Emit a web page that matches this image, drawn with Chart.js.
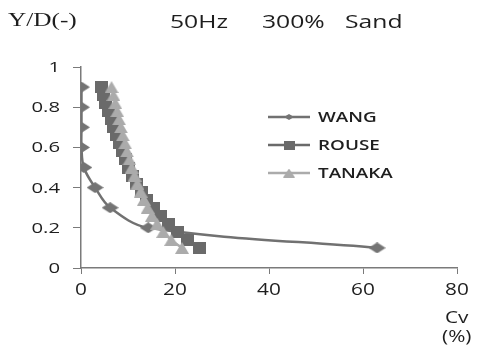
<!DOCTYPE html>
<html>
<head>
<meta charset="utf-8">
<script src="https://cdn.jsdelivr.net/npm/chart.js@4.4.1/dist/chart.umd.min.js"></script>
<style>
  html, body { margin: 0; padding: 0; background: #fff; }
  #wrap { position: relative; width: 479px; height: 347px; }
  .lbl { position: absolute; color: #1e1e1e; white-space: pre; transform-origin: 0 0; }
  .sans { font-family: 'Open Sans', sans-serif; }
</style>
</head>
<body>
<div id="wrap">
  <canvas id="c" width="479" height="347"></canvas>
  <div class="lbl" style="left:8px;top:9px;font:19px 'Liberation Serif',serif;transform:scaleX(1.33);">Y/D(-)</div>
  <div class="lbl sans" style="left:170px;top:8px;font-size:19px;transform:scaleX(1.3);">50Hz</div>
  <div class="lbl sans" style="left:262px;top:8px;font-size:19px;transform:scaleX(1.3);">300%</div>
  <div class="lbl sans" style="left:345px;top:8px;font-size:19px;transform:scaleX(1.3);">Sand</div>
  <div class="lbl sans" style="left:445px;top:306px;font-size:16px;transform:scaleX(1.3);">Cv</div>
  <div class="lbl sans" style="left:442px;top:325px;font-size:16px;transform:scaleX(1.3);">(%)</div>
</div>
<script>
// Y/D values and Cv (%)
const wangY = [0.9, 0.8, 0.7, 0.6, 0.5, 0.4, 0.3, 0.2, 0.1];
const wangCv = [0.1, 0.1, 0.1, 0.1, 0.6, 3.0, 6.2, 14.3, 63.0];

const rouseY = [0.9, 0.86, 0.82, 0.78, 0.74, 0.7, 0.66, 0.62, 0.58, 0.54, 0.5,
                0.46, 0.42, 0.38, 0.34, 0.3, 0.26, 0.22, 0.18, 0.14, 0.1];
const rouseCv = [4.3, 4.8, 5.3, 5.9, 6.4, 7.0, 7.6, 8.2, 8.8, 9.4, 10.1,
                 10.9, 11.8, 12.8, 14.0, 15.4, 16.9, 18.6, 20.5, 22.6, 25.3];

const tanakaY = [0.9, 0.86, 0.82, 0.78, 0.74, 0.7, 0.66, 0.62, 0.58, 0.54, 0.5,
                 0.46, 0.42, 0.38, 0.34, 0.3, 0.26, 0.22, 0.18, 0.14, 0.1];
const tanakaCv = [6.5, 6.9, 7.3, 7.7, 8.1, 8.5, 8.9, 9.4, 9.8, 10.3, 10.8,
                  11.4, 12.0, 12.7, 13.4, 14.2, 15.1, 16.2, 17.5, 19.2, 21.5];

const xTicks = [0, 20, 40, 60, 80];
const yTicks = [0, 0.2, 0.4, 0.6, 0.8, 1];

const toPts = (xs, ys) => xs.map((x, i) => ({x: x, y: ys[i]}));

// the picture is stretched sideways, so markers are too
function marker(shape, w, h, color) {
    const cv = document.createElement('canvas');
    cv.width = w; cv.height = h;
    const c = cv.getContext('2d');
    c.fillStyle = color;
    c.beginPath();
    if (shape === 'diamond') {
        c.moveTo(w / 2, 0); c.lineTo(w, h / 2); c.lineTo(w / 2, h); c.lineTo(0, h / 2);
    } else if (shape === 'tri') {
        c.moveTo(w / 2, 0); c.lineTo(w, h); c.lineTo(0, h);
    } else {
        c.rect(0, 0, w, h);
    }
    c.closePath();
    c.fill();
    return cv;
}

const colWang = '#747474', colRouse = '#6a6a6a', colTanaka = '#ababab';
const legendMarks = [
    marker('diamond', 10, 6, colWang),
    marker('rect', 11, 9, colRouse),
    marker('tri', 12, 9, colTanaka)
];

// tick labels and legend, drawn with the same sideways stretch
const extras = {
    id: 'extras',
    afterDraw(chart) {
        const ctx = chart.ctx;
        const sx = chart.scales.x, sy = chart.scales.y;
        ctx.save();
        ctx.fillStyle = '#1e1e1e';
        ctx.textBaseline = 'middle';
        ctx.font = "16px 'Open Sans', sans-serif";
        xTicks.forEach(v => {
            ctx.save();
            ctx.translate(sx.getPixelForValue(v), 290);
            ctx.scale(1.3, 1);
            ctx.textAlign = 'center';
            ctx.fillText(String(v), 0, 0);
            ctx.restore();
        });
        ctx.font = "14px 'Open Sans', sans-serif";
        yTicks.forEach(v => {
            ctx.save();
            ctx.translate(60, sy.getPixelForValue(v) + 1);
            ctx.scale(1.45, 1);
            ctx.textAlign = 'right';
            ctx.fillText(String(v), 0, 0);
            ctx.restore();
        });

        const rows = [117, 145, 173];
        chart.data.datasets.forEach((ds, i) => {
            const y = rows[i];
            ctx.strokeStyle = ds.borderColor;
            ctx.lineWidth = 2.5;
            ctx.beginPath();
            ctx.moveTo(268, y);
            ctx.lineTo(310, y);
            ctx.stroke();
            const m = legendMarks[i];
            ctx.drawImage(m, 289 - m.width / 2, y - m.height / 2);
            ctx.save();
            ctx.translate(318, y + 1);
            ctx.scale(1.3, 1);
            ctx.font = "600 14.5px 'Open Sans', sans-serif";
            ctx.textAlign = 'left';
            ctx.fillStyle = '#1e1e1e';
            ctx.fillText(ds.label, 0, 0);
            ctx.restore();
        });
        ctx.restore();
    }
};

new Chart(document.getElementById('c').getContext('2d'), {
    type: 'scatter',
    data: {
        datasets: [{
            label: 'WANG',
            data: toPts(wangCv, wangY),
            showLine: true,
            tension: 0.35,
            borderColor: '#717171',
            borderWidth: 2.5,
            pointStyle: marker('diamond', 17, 11, colWang),
            order: 3
        }, {
            label: 'ROUSE',
            data: toPts(rouseCv, rouseY),
            showLine: true,
            tension: 0.3,
            borderColor: colRouse,
            borderWidth: 2.5,
            pointStyle: marker('rect', 13, 12, colRouse),
            order: 2
        }, {
            label: 'TANAKA',
            data: toPts(tanakaCv, tanakaY),
            showLine: true,
            tension: 0.3,
            borderColor: colTanaka,
            borderWidth: 2.5,
            pointStyle: marker('tri', 14, 12, colTanaka),
            order: 1
        }]
    },
    options: {
        responsive: false,
        animation: false,
        layout: { padding: { left: 0, top: 67, right: 22, bottom: 0 } },
        plugins: { legend: { display: false }, tooltip: { enabled: false } },
        scales: {
            x: {
                type: 'linear',
                min: 0, max: 80,
                afterBuildTicks: s => { s.ticks = xTicks.map(v => ({value: v})); },
                afterFit: s => { s.height = 79; },
                grid: { drawOnChartArea: false, tickLength: 6, color: '#7a7a7a', lineWidth: 1 },
                border: { color: '#7a7a7a', width: 1.5 },
                ticks: { display: false }
            },
            y: {
                type: 'linear',
                min: 0, max: 1,
                afterBuildTicks: s => { s.ticks = yTicks.map(v => ({value: v})); },
                afterFit: s => { s.width = 81; },
                grid: { drawOnChartArea: false, tickLength: 8, color: '#7a7a7a', lineWidth: 1 },
                border: { color: '#7a7a7a', width: 1.5 },
                ticks: { display: false }
            }
        }
    },
    plugins: [extras]
});
</script>
</body>
</html>
